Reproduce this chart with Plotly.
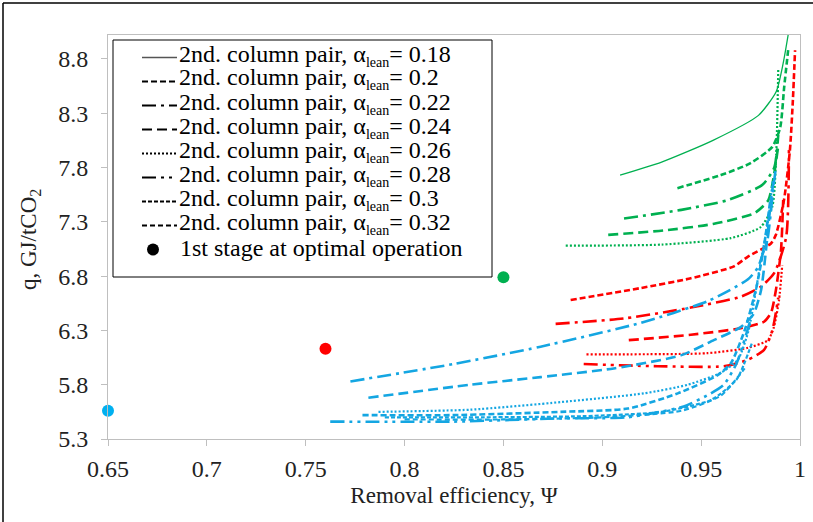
import plotly.graph_objects as go

# ---------------- data ----------------
alpha_labels = ["0.18", "0.2", "0.22", "0.24", "0.26", "0.28", "0.3", "0.32"]

# first stage optimal operation points
stage1_x = [0.65, 0.76, 0.85]
stage1_y = [5.56, 6.13, 6.79]

# green group
g018_x = [0.909, 0.930, 0.956, 0.979, 0.988, 0.9915, 0.994]
g018_y = [7.73, 7.85, 8.05, 8.28, 8.50, 8.76, 9.02]
g020_x = [0.938, 0.960, 0.975, 0.986, 0.990, 0.992, 0.994]
g020_y = [7.61, 7.73, 7.84, 7.99, 8.17, 8.54, 8.88]
g022_x = [0.911, 0.940, 0.9635, 0.981, 0.987, 0.989]
g022_y = [7.33, 7.41, 7.50, 7.64, 7.80, 8.10]
g024_x = [0.903, 0.931, 0.956, 0.977, 0.984, 0.987, 0.989]
g024_y = [7.18, 7.22, 7.28, 7.38, 7.50, 7.75, 8.00]
g026_x = [0.8815, 0.930, 0.965, 0.980, 0.986, 0.988, 0.989]
g026_y = [7.08, 7.09, 7.15, 7.25, 7.44, 7.93, 8.70]

# red group
r020_x = [0.884, 0.9195, 0.9448, 0.9666, 0.9737, 0.9853, 0.9878, 0.9919, 0.9949, 0.9964, 0.9975]
r020_y = [6.58, 6.69, 6.78, 6.89, 6.98, 7.10, 7.18, 7.50, 7.96, 8.42, 8.88]
r022_x = [0.8764, 0.911, 0.9448, 0.970, 0.980, 0.987, 0.993, 0.9944]
r022_y = [6.36, 6.41, 6.51, 6.61, 6.70, 6.83, 7.16, 7.96]
r024_x = [0.9134, 0.9448, 0.970, 0.9818, 0.9853, 0.9878, 0.9904, 0.9915]
r024_y = [6.21, 6.26, 6.32, 6.38, 6.46, 6.67, 7.04, 7.50]
r026_x = [0.892, 0.953, 0.9737, 0.9838, 0.9868, 0.9894, 0.991]
r026_y = [6.08, 6.09, 6.14, 6.21, 6.33, 6.58, 6.90]
r028_x = [0.8906, 0.928, 0.9615, 0.9737, 0.9818, 0.986, 0.989]
r028_y = [5.99, 5.97, 5.97, 6.03, 6.12, 6.30, 6.60]

# blue group
b020_x = [0.7787, 0.8247, 0.879, 0.9129, 0.9382, 0.9585, 0.9651, 0.972, 0.978, 0.982, 0.985]
b020_y = [5.52, 5.52, 5.55, 5.58, 5.72, 5.89, 6.00, 6.30, 6.70, 7.10, 7.50]
b022_x = [0.7726, 0.8247, 0.8688, 0.9195, 0.9534, 0.9737, 0.9787, 0.9818, 0.9835, 0.9868, 0.9878]
b022_y = [5.83, 5.99, 6.15, 6.37, 6.57, 6.77, 6.88, 7.04, 7.13, 7.66, 7.80]
b024_x = [0.7817, 0.8334, 0.8688, 0.9058, 0.9397, 0.9564, 0.970, 0.9765, 0.9803, 0.9828, 0.9853, 0.987]
b024_y = [5.68, 5.80, 5.87, 5.95, 6.07, 6.21, 6.33, 6.45, 6.67, 7.04, 7.50, 7.72]
b026_x = [0.7868, 0.8334, 0.879, 0.921, 0.9433, 0.960, 0.9686, 0.974, 0.978, 0.9803, 0.9838, 0.9863]
b026_y = [5.55, 5.57, 5.64, 5.72, 5.80, 5.91, 6.03, 6.30, 6.70, 6.95, 7.30, 7.69]
b028_x = [0.7624, 0.8247, 0.879, 0.9129, 0.9412, 0.9549, 0.9615, 0.968, 0.975]
b028_y = [5.46, 5.46, 5.49, 5.50, 5.60, 5.72, 5.80, 6.00, 6.40]
b030_x = [0.790, 0.840, 0.890, 0.930, 0.955, 0.968, 0.976]
b030_y = [5.50, 5.50, 5.51, 5.55, 5.66, 5.85, 6.20]
b032_x = [0.800, 0.850, 0.900, 0.940, 0.960, 0.972]
b032_y = [5.48, 5.48, 5.50, 5.56, 5.70, 5.95]

x_ticks = [0.65, 0.7, 0.75, 0.8, 0.85, 0.9, 0.95, 1.0]
x_ticktext = ["0.65", "0.7", "0.75", "0.8", "0.85", "0.9", "0.95", "1"]
y_ticks = [5.3, 5.8, 6.3, 6.8, 7.3, 7.8, 8.3, 8.8]
y_ticktext = ["5.3", "5.8", "6.3", "6.8", "7.3", "7.8", "8.3", "8.8"]

# ---------------- styles ----------------
GREEN = "#00B050"
RED = "#FF0000"
BLUE = "#14A6E2"
FONT = "Liberation Serif, Times New Roman, serif"

dash_styles = {
    "0.18": ("solid", 1.3),
    "0.2": ("6px,3px", 2.6),
    "0.22": ("14px,5px,3px,5px", 2.6),
    "0.24": ("10px,5px", 2.6),
    "0.26": ("2px,2px", 2.2),
    "0.28": ("14px,5px,3px,5px,3px,5px", 2.6),
    "0.3": ("4px,2px", 2.2),
    "0.32": ("5px,3px", 2.2),
}

series = [
    (g018_x, g018_y, GREEN, "0.18"), (g020_x, g020_y, GREEN, "0.2"),
    (g022_x, g022_y, GREEN, "0.22"), (g024_x, g024_y, GREEN, "0.24"),
    (g026_x, g026_y, GREEN, "0.26"),
    (r020_x, r020_y, RED, "0.2"), (r022_x, r022_y, RED, "0.22"),
    (r024_x, r024_y, RED, "0.24"), (r026_x, r026_y, RED, "0.26"),
    (r028_x, r028_y, RED, "0.28"),
    (b020_x, b020_y, BLUE, "0.2"), (b022_x, b022_y, BLUE, "0.22"),
    (b024_x, b024_y, BLUE, "0.24"), (b026_x, b026_y, BLUE, "0.26"),
    (b028_x, b028_y, BLUE, "0.28"), (b030_x, b030_y, BLUE, "0.3"),
    (b032_x, b032_y, BLUE, "0.32"),
]

fig = go.Figure()
for xs, ys, col, a in series:
    dash, w = dash_styles[a]
    fig.add_trace(go.Scatter(x=xs, y=ys, mode="lines", showlegend=False,
                             line=dict(color=col, width=w, dash=dash, shape="spline", smoothing=0.6),
                             hoverinfo="skip"))

fig.add_trace(go.Scatter(x=stage1_x, y=stage1_y, mode="markers", showlegend=False,
                         marker=dict(size=12, color=["#00B0F0", RED, GREEN]), cliponaxis=False,
                         hoverinfo="skip"))

# ---------------- layout helpers ----------------
L, R, T, B = 108, 13, 35, 83
W, H = 813, 522
PW, PH = W - L - R, H - T - B


def px(xp):
    return (xp - L) / PW


def py(yp):
    return (H - B - yp) / PH


shapes = []
annotations = []

# outer border (top and left visible)
shapes.append(dict(type="line", xref="paper", yref="paper", x0=px(3), x1=px(813), y0=py(3), y1=py(3),
                   line=dict(color="black", width=1.5)))
shapes.append(dict(type="line", xref="paper", yref="paper", x0=px(3), x1=px(3), y0=py(3), y1=py(522),
                   line=dict(color="black", width=1.5)))

# legend box
shapes.append(dict(type="rect", xref="paper", yref="paper", x0=px(113), x1=px(492), y0=py(277), y1=py(40),
                   line=dict(color="black", width=1), fillcolor="white", layer="above"))

row0, row_step = 57.5, 24.0
for i, a in enumerate(alpha_labels):
    yc = row0 + i * row_step
    dash, w = dash_styles[a]
    col = "#555555" if a == "0.18" else "black"
    shapes.append(dict(type="line", xref="paper", yref="paper", x0=px(142), x1=px(177), y0=py(yc), y1=py(yc),
                       line=dict(color=col, width=min(w, 2.0), dash=dash), layer="above"))
    annotations.append(dict(xref="paper", yref="paper", x=px(177), y=py(yc - 19), xanchor="left", yanchor="top",
                            text="2nd. column pair, \u03b1<sub><span style='font-size:14px'>lean</span></sub>= " + a,
                            showarrow=False, font=dict(family=FONT, size=24, color="black")))
yc = row0 + 8 * row_step
shapes.append(dict(type="circle", xref="paper", yref="paper", x0=px(147), x1=px(159), y0=py(yc + 6),
                   y1=py(yc - 6), fillcolor="black", line=dict(color="black", width=0), layer="above"))
annotations.append(dict(xref="paper", yref="paper", x=px(178), y=py(yc - 17), xanchor="left", yanchor="top",
                        text="1st stage at optimal operation", showarrow=False,
                        font=dict(family=FONT, size=24, color="black")))

# y axis title
annotations.append(dict(xref="paper", yref="paper", x=px(30), y=py(240), xanchor="center", yanchor="middle",
                        textangle=-90, text="q, GJ/tCO<sub>2</sub>", showarrow=False,
                        font=dict(family=FONT, size=23, color="#222222")))

fig.update_layout(
    width=W, height=H,
    margin=dict(l=L, r=R, t=T, b=B, autoexpand=False),
    paper_bgcolor="white", plot_bgcolor="white",
    shapes=shapes, annotations=annotations,
    xaxis=dict(range=[0.65, 1.0], tickvals=x_ticks, ticktext=x_ticktext, showgrid=False, zeroline=False,
               showline=True, linecolor="#BFBFBF", linewidth=1, mirror=True, ticks="outside", ticklen=6,
               tickcolor="#BFBFBF", tickfont=dict(family=FONT, size=24, color="#222222"),
               ticklabelstandoff=2,
               title=dict(text="Removal efficiency, \u03a8", font=dict(family=FONT, size=23, color="#222222"),
                          standoff=6)),
    yaxis=dict(range=[5.3, 9.02], tickvals=y_ticks, ticktext=y_ticktext, showgrid=False, zeroline=False,
               showline=True, linecolor="#BFBFBF", linewidth=1, mirror=True, ticks="outside", ticklen=6,
               tickcolor="#BFBFBF", tickfont=dict(family=FONT, size=24, color="#222222"),
               ticklabelstandoff=8),
)

fig.write_html("out.html", config={"displayModeBar": False},
               post_script="document.body.style.margin='0px';")
